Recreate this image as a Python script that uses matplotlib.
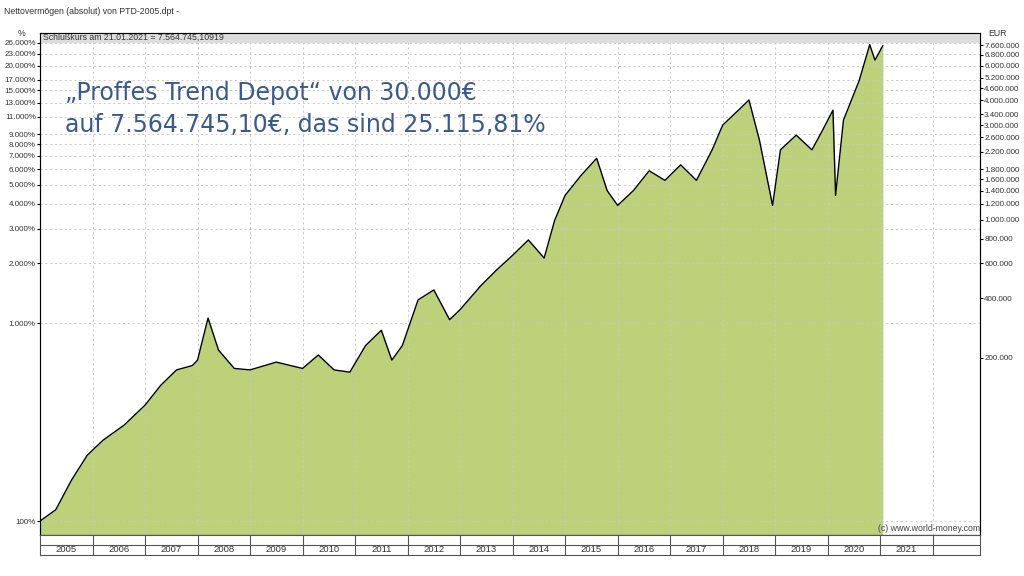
import matplotlib
matplotlib.use("Agg")
import matplotlib.pyplot as plt
import numpy as np
from matplotlib.patches import Rectangle

years = [2005.0,2005.3,2005.6,2005.9,2006.2,2006.6,2007.0,2007.3,2007.6,2007.9,2008.0,2008.2,2008.4,2008.7,2009.0,2009.5,2010.0,2010.3,2010.6,2010.9,2011.2,2011.5,2011.7,2011.9,2012.2,2012.5,2012.8,2013.0,2013.4,2013.7,2014.0,2014.3,2014.6,2014.8,2015.0,2015.3,2015.6,2015.8,2016.0,2016.3,2016.6,2016.9,2017.2,2017.5,2017.8,2018.0,2018.3,2018.5,2018.7,2018.95,2019.1,2019.4,2019.7,2019.9,2020.1,2020.15,2020.3,2020.6,2020.8,2020.9,2021.05]
pct = [100,114,161,215,256,305,385,485,580,610,650,1060,730,590,580,635,590,690,580,565,770,920,650,770,1310,1470,1040,1170,1550,1860,2200,2630,2130,3300,4420,5560,6800,4670,3930,4670,5880,5260,6300,5260,7500,10000,11900,13400,8400,3930,7500,8900,7500,9400,11900,4420,10600,16800,25500,21300,25200]
left_ticks = [100,1000,2000,3000,4000,5000,6000,7000,8000,9000,11000,13000,15000,17000,20000,23000,26000]
right_ticks = [200000,400000,600000,800000,1000000,1200000,1400000,1600000,1800000,2200000,2600000,3000000,3400000,4000000,4600000,5200000,6000000,6800000,7600000]
year_labels = [str(y) for y in range(2005,2022)]

def de(n):
    return f"{n:,}".replace(",", ".")

SM = "Liberation Sans"
fig = plt.figure(figsize=(10.24,5.76), dpi=100)
L, R, B, T = 40/1024, 980/1024, 41/576, 543/576
ax = fig.add_axes([L, B, R-L, T-B])
ymin, ymax = 85, 29200
ax.set_yscale("log")
ax.set_xlim(2005, 2022.9)
ax.set_ylim(ymin, ymax)
ax.fill_between(years, pct, ymin, color="#bdd17a", lw=0)
ax.plot(years, pct, color="black", lw=1)
ax.set_yticks(left_ticks)
ax.set_yticklabels([de(v)+"%" for v in left_ticks], fontsize=5.8, color="#333", family=SM)
ax.yaxis.set_minor_locator(matplotlib.ticker.NullLocator())
ax.set_xticks(range(2006,2023))
ax.tick_params(axis="x", labelbottom=False, length=0)
ax.tick_params(axis="y", length=2, pad=1)
ax.grid(True, ls=(0,(2,3)), color="#c8c8c8", lw=0.7)
for s in ax.spines.values():
    s.set_color("#555")
ax2 = ax.twinx()
ax2.set_yscale("log")
ax2.set_ylim(ymin*300, ymax*300)
ax2.set_yticks(right_ticks)
ax2.set_yticklabels([de(v) for v in right_ticks], fontsize=5.8, color="#333", family=SM)
ax2.yaxis.set_minor_locator(matplotlib.ticker.NullLocator())
ax2.tick_params(axis="y", length=2, pad=1)
ax.add_patch(Rectangle((0,1-9/502),1,9/502, transform=ax.transAxes, color="#dddddd", zorder=3))
ax.text(0.003,1-4.5/502,"Schlußkurs am 21.01.2021 = 7.564.745,10919", transform=ax.transAxes, fontsize=6.3, va="center", zorder=4, color="#333", family=SM)
ax.text((2020.95-2005)/17.9, 0.003, "(c) www.world-money.com", transform=ax.transAxes, fontsize=6.3, ha="left", va="bottom", color="#444", zorder=4, family=SM)
fig.text(0.004, 1-11/576, "Nettovermögen (absolut) von PTD-2005.dpt -", fontsize=6.3, va="center", color="#333", family=SM)
fig.text(L-0.022, 1-34/576, "%", fontsize=6.3, va="center", color="#333", family=SM)
fig.text(R+0.008, 1-33/576, "EUR", fontsize=6.3, va="center", color="#333", family=SM)
ax.text(0.027, 0.905, "„Proffes Trend Depot“ von 30.000€\nauf 7.564.745,10€, das sind 25.115,81%", transform=ax.transAxes, fontsize=17, color="#3b5a8c", va="top", linespacing=1.45, zorder=4)
ay = fig.add_axes([L, 21/576, R-L, 20/576])
ay.set_xlim(2005, 2022.9); ay.set_ylim(0,2)
ay.set_xticks([]); ay.set_yticks([])
ay.axhline(1, color="#555", lw=0.8)
for x in range(2006, 2023):
    ay.plot([x,x],[0,2], color="#555", lw=0.8)
for i, lab in enumerate(year_labels):
    ay.text(2005+i+0.5, 0.5, lab, ha="center", va="center", fontsize=6.8, color="#333", family=SM)
for s in ay.spines.values():
    s.set_color("#555")
fig.savefig("out.png", dpi=100)
